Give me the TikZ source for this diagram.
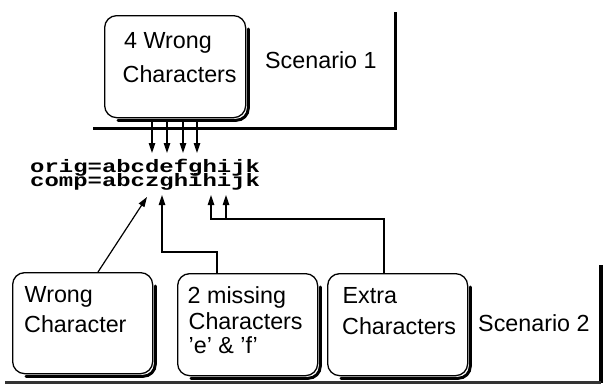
\documentclass[tikz,border=0pt]{standalone}
\usepackage{fontspec}
\setmainfont{Liberation Sans}
\newfontfamily\codefont[FakeStretch=1.33]{Liberation Mono}
\usetikzlibrary{arrows.meta}
\tikzset{
  rbox/.style={draw, line width=1.3pt, rounded corners=12pt, fill=white, inner sep=0pt,
    minimum width=140pt, minimum height=101pt, anchor=north west},
  lbl/.style={anchor=base west, inner sep=0pt, font=\fontsize{23.3}{28}\selectfont},
  code/.style={anchor=base west, inner sep=0pt, font=\codefont\bfseries\fontsize{18}{22}\selectfont},
  arr/.style={line width=1.2pt, -{Triangle[length=10pt,width=6.5pt]}},
  frame/.style={line width=3pt},
  shadowline/.style={line width=3pt, line cap=round},
}
\begin{document}
\begin{tikzpicture}[x=1pt,y=-1pt]
\useasboundingbox (0,0) rectangle (604,383);
% frames
\draw[frame] (93,128) -- (395,128) -- (395,12);
\draw[frame, line width=4pt] (601,265) -- (601,383);
\draw[line width=2.5pt, black!80] (5,382.5) -- (601,382.5);
% top box
\node[rbox, minimum width=141pt, minimum height=102pt] (box1) at (104,15) {};
\node[lbl] (t1a) at (124,48) {4 Wrong};
\node[lbl] (t1b) at (122.5,82) {Characters};
\node[lbl] (sc1) at (265,68) {Scenario 1};
% code lines
\node[code] (orig) at (30,172) {orig=abcdefghijk};
\node[code] (comp) at (30,186) {comp=abczghihijk};
% bottom boxes
\node[rbox] (wrong) at (12,272) {};
\node[rbox, minimum height=102pt] (missing) at (177,273) {};
\node[rbox, minimum height=102pt] (extra) at (327,273) {};
% shadow edges along bottom and right of each box
\foreach \b in {box1,wrong,missing,extra}
  \draw[shadowline, rounded corners=12pt]
    ([shift={(2pt,-14pt)}]\b.north east) -- ([shift={(2pt,-2pt)}]\b.south east) -- ([shift={(14pt,-2pt)}]\b.south west);
\node[lbl] (w1) at (24.5,302) {Wrong};
\node[lbl] (w2) at (24,332) {Character};
\node[lbl] (m1) at (187.5,303) {2 missing};
\node[lbl] (m2) at (188.5,329) {Characters};
\node[lbl] (m3) at (188.5,353) {'e' \& 'f'};
\node[lbl] (e1) at (342.5,303) {Extra};
\node[lbl] (e2) at (342,334) {Characters};
\node[lbl] (sc2) at (478,331) {Scenario 2};
% targets
\coordinate (td) at (152,153);
\coordinate (te) at (167,153);
\coordinate (tf) at (183,153);
\coordinate (tg) at (197,153);
\coordinate (tz) at (147,197);
\coordinate (tm) at (162,195);
\coordinate (th) at (211,195);
\coordinate (ti) at (226,195);
\coordinate (tj) at (226,219);
\foreach \t in {td,te,tf,tg} {\draw[arr] ([yshift=-2pt]box1.south -| \t) -- (\t);}
% connectors
\draw[arr] ([xshift=86pt]wrong.north west) -- (tz);
\draw[arr] ([xshift=40pt]missing.north west) -- ++(0,-21) -| (tm);
\draw[arr] ([xshift=57pt]extra.north west) -- ++(0,-54) -| (th);
\draw[arr] (tj) -- (ti);
\end{tikzpicture}
\end{document}
